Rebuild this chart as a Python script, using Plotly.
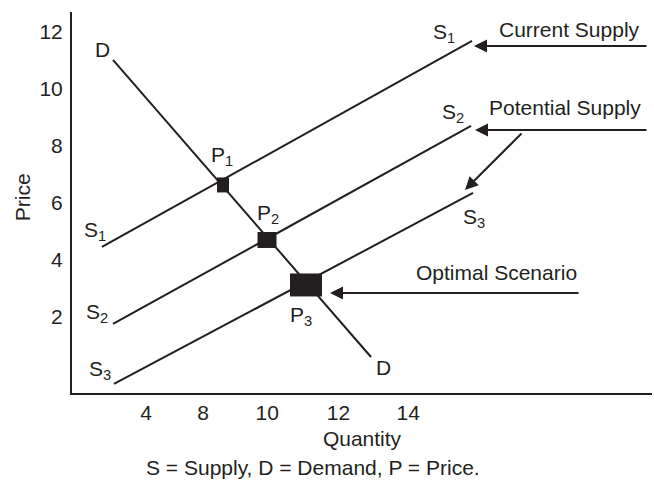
import plotly.graph_objects as go

# ---- data (diagram units) ----
x_tick_pos = [4, 6, 8.25, 10.75, 13.2]
x_tick_text = ["4", "8", "10", "12", "14"]
y_tick_vals = [2, 4, 6, 8, 10, 12]

demand_x = [2.842, 11.895]
demand_y = [11.018, 0.596]

s1_x = [2.456, 15.439]
s1_y = [4.456, 11.684]
s2_x = [2.842, 15.404]
s2_y = [1.754, 8.702]
s3_x = [2.877, 15.474]
s3_y = [-0.351, 6.351]

eq_names = ["P<sub>1</sub>", "P<sub>2</sub>", "P<sub>3</sub>"]
eq_x = [6.702, 8.246, 9.614]
eq_y = [6.632, 4.702, 3.123]
eq_label_x = [6.667, 8.281, 9.439]
eq_label_y = [7.649, 5.614, 2.035]

curve_labels = ["D", "D", "S<sub>1</sub>", "S<sub>1</sub>", "S<sub>2</sub>", "S<sub>2</sub>", "S<sub>3</sub>", "S<sub>3</sub>"]
curve_label_x = [2.491, 12.316, 2.211, 14.456, 2.281, 14.772, 2.386, 15.509]
curve_label_y = [11.368, 0.211, 5.018, 11.965, 2.140, 9.158, 0.140, 5.474]

callout_text = ["Current Supply", "Potential Supply", "Optimal Scenario"]
callout_text_x = [21.404, 21.439, 19.193]
callout_text_y = [12.07, 9.333, 3.544]

arrow_tail_x = [21.614, 21.614, 17.228, 19.228]
arrow_tail_y = [11.509, 8.561, 8.491, 2.842]
arrow_tip_x = [15.509, 15.544, 15.193, 10.456]
arrow_tip_y = [11.509, 8.561, 6.456, 2.842]

# ---- style ----
INK = "#231f20"
FONT = "Liberation Sans, Arial, Helvetica, sans-serif"
FS = 21
eq_box_w = [12, 19, 32]
eq_box_h = [15, 16, 23]

fig = go.Figure()
for xs, ys in [(demand_x, demand_y), (s1_x, s1_y), (s2_x, s2_y), (s3_x, s3_y)]:
    fig.add_trace(go.Scatter(x=xs, y=ys, mode="lines",
                             line=dict(color=INK, width=2), hoverinfo="skip",
                             showlegend=False))

for i in range(len(eq_x)):
    fig.add_shape(type="rect", xref="x", yref="y",
                  xsizemode="pixel", ysizemode="pixel",
                  xanchor=eq_x[i], yanchor=eq_y[i],
                  x0=-eq_box_w[i] / 2, x1=eq_box_w[i] / 2,
                  y0=-eq_box_h[i] / 2, y1=eq_box_h[i] / 2,
                  fillcolor=INK, line=dict(width=0))
    fig.add_annotation(x=eq_label_x[i], y=eq_label_y[i], text=eq_names[i],
                       showarrow=False, font=dict(size=FS, color=INK, family=FONT))

for t, x, y in zip(curve_labels, curve_label_x, curve_label_y):
    fig.add_annotation(x=x, y=y, text=t, showarrow=False,
                       font=dict(size=FS, color=INK, family=FONT))

for t, x, y in zip(callout_text, callout_text_x, callout_text_y):
    fig.add_annotation(x=x, y=y, text=t, showarrow=False, xanchor="right",
                       font=dict(size=FS, color=INK, family=FONT))

for tx, ty, hx, hy in zip(arrow_tail_x, arrow_tail_y, arrow_tip_x, arrow_tip_y):
    fig.add_annotation(x=hx, y=hy, ax=tx, ay=ty, axref="x", ayref="y",
                       xref="x", yref="y", text="", showarrow=True,
                       arrowhead=2, arrowsize=1.3, arrowwidth=2, arrowcolor=INK,
                       standoff=0, startstandoff=0)

fig.add_annotation(x=-0.086, y=0.514, xref="paper", yref="paper",
                   text="Price", textangle=-90, showarrow=False,
                   xanchor="center", yanchor="middle",
                   font=dict(size=FS, color=INK, family=FONT))

fig.add_annotation(x=0.415, y=-0.195, xref="paper", yref="paper",
                   text="S = Supply, D = Demand, P = Price.", showarrow=False,
                   yanchor="middle", font=dict(size=FS, color=INK, family=FONT))

fig.update_layout(
    width=654, height=487,
    margin=dict(l=72, r=2, t=12, b=94),
    paper_bgcolor="white", plot_bgcolor="white",
    font=dict(family=FONT, size=FS, color=INK),
    xaxis=dict(range=[1.404, 21.754], tickvals=x_tick_pos, ticktext=x_tick_text,
               showline=True, linecolor=INK, linewidth=2, showgrid=False,
               zeroline=False, ticks="", ticklabelstandoff=0, automargin=False,
               title=dict(text="Quantity", standoff=8,
                          font=dict(size=FS, color=INK, family=FONT))),
    yaxis=dict(range=[-0.667, 12.70], tickvals=y_tick_vals,
               showline=True, linecolor=INK, linewidth=2, showgrid=False,
               zeroline=False, ticks="", ticklabelstandoff=3, automargin=False),
)

fig.write_html("out.html", config={"displayModeBar": False},
               post_script="document.body.style.margin='0';document.body.style.overflow='hidden';")
